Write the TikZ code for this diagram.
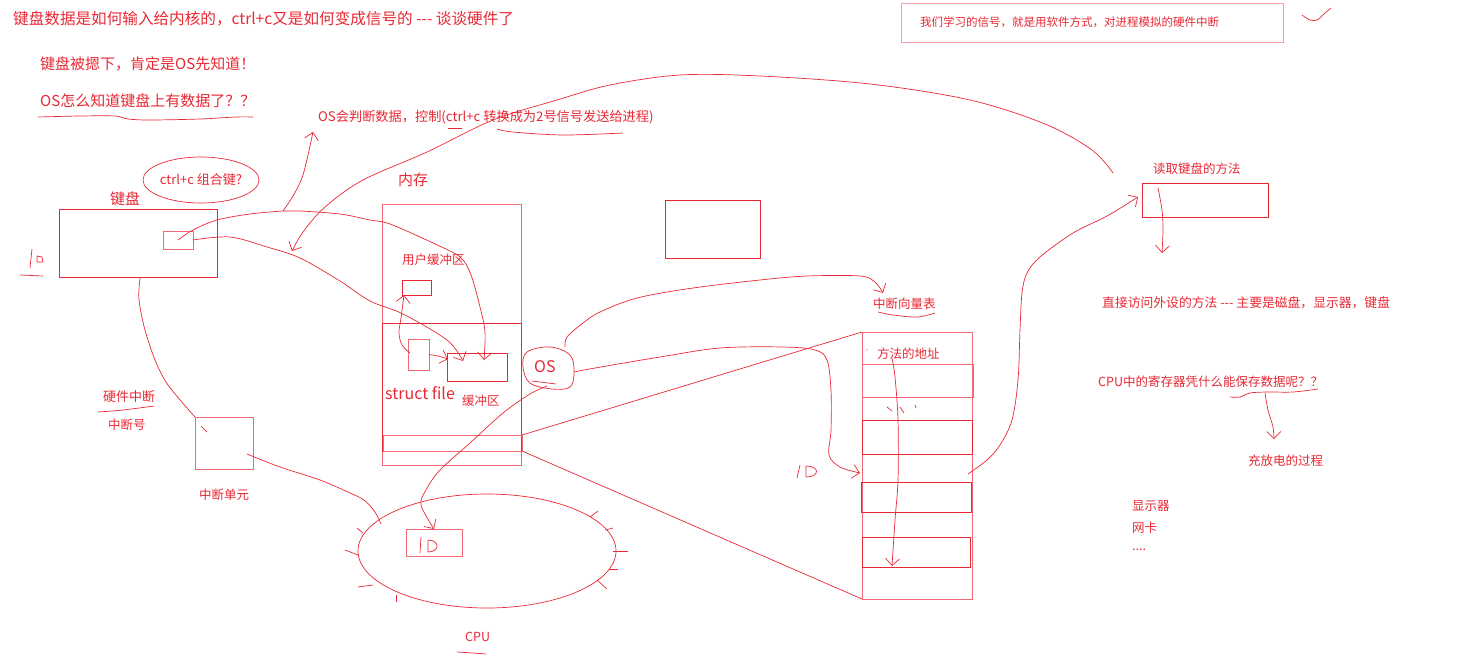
\documentclass[tikz,border=0pt]{standalone}
\usepackage{fontspec}
\setmainfont{Noto Sans CJK SC}
\usetikzlibrary{arrows.meta,shapes.geometric}
\definecolor{rd}{RGB}{232,40,52}
\definecolor{lrd}{RGB}{240,105,115}
\definecolor{pk}{RGB}{246,160,166}
\newcommand{\fsz}[1]{\fontsize{#1}{#1}\selectfont}
\newcommand{\tdash}{\mbox{-}\mbox{-}\mbox{-}}
\begin{document}
\begin{tikzpicture}[x=1pt,y=-1pt,
  txt/.style={text=rd,inner sep=0pt,anchor=west,font=\fsz{12.5}},
  ln/.style={draw=rd,line width=0.7pt},
  lln/.style={draw=lrd,line width=0.7pt},
  bx/.style={draw=rd,line width=0.8pt,anchor=north west,inner sep=0pt,outer sep=0pt},
  lbx/.style={draw=lrd,line width=0.8pt,anchor=north west,inner sep=0pt,outer sep=0pt},
  hd/.style={-{Straight Barb[length=7pt,width=14pt,line width=0.7pt]}},
  sm/.style={smooth,tension=0.55},
]
\path[use as bounding box] (0,0) rectangle (1461,659);

% ---------- texts ----------
\node[txt,font=\fsz{15.6}] (title) at (13,19) {键盘数据是如何输入给内核的，ctrl+c又是如何变成信号的 \tdash{} 谈谈硬件了};
\node[txt,font=\fsz{15}] (q1) at (40,64) {键盘被摁下，肯定是OS先知道！};
\node[txt,font=\fsz{15}] (q2) at (40,101) {OS怎么知道键盘上有数据了？？};
\node[txt,font=\fsz{13.2}] (osj) at (318,117) {OS会判断数据，控制(ctrl+c 转换成为2号信号发送给进程)};
\node[lbx,draw=pk,minimum width=382pt,minimum height=39pt] (topbox) at (901,3) {};
\node[txt,font=\fsz{11.5}] (topt) at (920,22) {我们学习的信号，就是用软件方式，对进程模拟的硬件中断};
\node[txt,font=\fsz{15}] (kbl) at (110,199) {键盘};
\node[ellipse,draw=rd,line width=0.7pt,minimum width=111pt,minimum height=46pt,inner sep=0pt,text=rd,font=\fsz{13}] (combo) at (201,180) {ctrl+c 组合键?};
\node[txt,font=\fsz{15}] (meml) at (398,180) {内存};
\node[txt] (ubufl) at (402,260) {用户缓冲区};
\node[txt,font=\fsz{16}] (sfl) at (385,393) {struct file};
\node[txt] (kbufl) at (462,401) {缓冲区};
\node[txt,font=\fsz{16}] (osl) at (534,367) {OS};
\node[txt] (ivtl) at (873,304) {中断向量表};
\node[txt] (addrl) at (877,354) {方法的地址};
\node[txt] (rkl) at (1153,169) {读取键盘的方法};
\node[txt,font=\fsz{12.8}] (direct) at (1102,303) {直接访问外设的方法 \tdash{} 主要是磁盘，显示器，键盘};
\node[txt] (cpuq) at (1098,382) {CPU中的寄存器凭什么能保存数据呢？？};
\node[txt] (charge) at (1248,461) {充放电的过程};
\node[txt] (disp) at (1132,506) {显示器};
\node[txt] (nic) at (1132,528) {网卡};
\node[txt] (dots) at (1132,550) {....};
\node[txt,font=\fsz{13}] (hwi) at (103,397) {硬件中断};
\node[txt] (irqn) at (108,425) {中断号};
\node[txt] (iul) at (199,495) {中断单元};
\node[txt] (cpul) at (465,637) {CPU};

% ---------- boxes ----------
\node[bx,minimum width=158pt,minimum height=68pt] (kb) at (59,209) {};
\node[lbx,minimum width=30pt,minimum height=18pt] (kbs) at (163,231) {};
\node[lbx,minimum width=139pt,minimum height=261pt] (mem) at (382,204) {};
\node[bx,minimum width=139pt,minimum height=128pt] (memlow) at (382,323) {};
\node[lbx,minimum width=139pt,minimum height=16pt] (strip) at (383,435) {};
\node[bx,minimum width=29pt,minimum height=15pt] (ubuf) at (402,280) {};
\node[lbx,minimum width=21pt,minimum height=31pt] (sf) at (408,339) {};
\node[bx,minimum width=60pt,minimum height=28pt] (kbuf) at (447,353) {};
\node[bx,minimum width=95pt,minimum height=58pt] (empty) at (665,200) {};
\node[lbx,minimum width=110pt,minimum height=267pt] (ivt) at (862,332) {};
\node[lbx,minimum width=111pt,minimum height=33pt] (e1) at (862,364) {};
\node[bx,minimum width=110pt,minimum height=34pt] (e2) at (862,420) {};
\node[bx,minimum width=110pt,minimum height=30pt] (e3) at (861,482) {};
\node[bx,minimum width=108pt,minimum height=30pt] (e4) at (862,537) {};
\node[bx,minimum width=126pt,minimum height=34pt] (rk) at (1142,183) {};
\node[lbx,minimum width=58pt,minimum height=52pt] (iu) at (195,417) {};
\node[lbx,minimum width=56pt,minimum height=27pt] (idb) at (406,529) {};
\node[ellipse,draw=rd,line width=0.7pt,minimum width=258pt,minimum height=114pt,inner sep=0pt] (cpu) at (487,551) {};

% OS blob
\draw[ln] plot[smooth cycle,tension=0.6] coordinates {(527,352) (550,347) (570,355) (574,372) (570,387) (552,389) (530,383) (523,367)};
\draw[ln] (532,381) -- (556,384);

% ---------- connectors ----------
\coordinate (br) at (283,211);
\draw[ln,hd] plot[sm] coordinates {(kbs.center) (193,230) (217,220) (250,214) (br) (300,211) (340,214) (370,220) (390,224) (433,243) (460,257) (471,275) (480,307) (485,332) (484,360)};
\draw[ln,hd] plot[sm] coordinates {(br) (293,196) (302,178) (308,155) (313,132)};
\draw[ln,hd] plot[sm] coordinates {(kbs.east) (230,237) (267,247) (300,258) (340,281) (370,301) (403,314) (447,340) (463,361)};
\draw[ln,hd] plot[sm] coordinates {(1113,173) (1092,150) (1045,124) (970,100) (870,84) (760,76) (680,75) (610,85) (557,100) (493,120) (427,152) (363,180) (325,207) (303,232) (292,251)};
\draw[ln] plot[sm] coordinates {(140,278) (139,300) (145,330) (155,360) (166,382) (181,401) (iu.north west)};
\draw[ln] (201,426) -- (207,432);
\draw[ln] plot[sm] coordinates {(247,454) (280,467) (320,480) (350,493) (364,500) (375,512) (381,524)};
\draw[ln,hd] plot[sm] coordinates {(410,353) (402,345) (399,333) (401,318) (404,295)};
\draw[ln,hd] plot[sm] coordinates {(sf.east) (438,356) (448,359)};
\draw[ln,hd] plot[sm] coordinates {(547,386) (530,394) (503,413) (470,443) (440,470) (426,490) (421,505) (idb.north)};
\draw[ln,hd] plot[sm] coordinates {(574,372) (595,368) (660,357) (720,348) (783,347) (815,350) (827,360) (831,390) (831,430) (829,455) (840,467) (860,473)};
\draw[ln,hd] plot[sm] coordinates {(565,347) (567,337) (583,323) (600,312) (637,298) (693,288) (760,280) (807,276) (860,276) (875,282) (883,293)};
\draw[ln] (strip.north east) -- (ivt.north west);
\draw[ln] (strip.south east) -- (ivt.south west);
\draw[ln,hd] plot[sm] coordinates {(968,474) (987,460) (1000,445) (1012,420) (1018,380) (1020,330) (1022,293) (1027,273) (1040,257) (1073,233) (1107,216) (1138,197)};
\draw[ln,hd] plot[sm] coordinates {(1158,188) (1162,210) (1163,230) (1162,253)};
\draw[ln,hd] plot[sm] coordinates {(892,358) (895,377) (898,420) (898,480) (895,520) (892,566)};
\draw[ln] plot[sm] coordinates {(1230,397) (1240,397) (1250,393) (1267,392) (1293,392) (1318,389)};
\draw[ln,hd] plot[sm] coordinates {(1265,393) (1268,410) (1273,427) (1274,439)};

% ---------- underlines & marks ----------
\draw[ln] plot[sm] coordinates {(38,117) (80,116) (115,116) (128,119) (150,120) (200,119) (236,117) (253,117)};
\draw[ln] (448,128) -- (462,128);
\draw[ln] plot[sm] coordinates {(497,129) (513,132) (563,135) (623,133)};
\draw[ln] plot[sm] coordinates {(878,312) (893,315) (917,317) (935,313)};
\draw[ln] plot[sm] coordinates {(98,412) (123,410) (154,406)};
\draw[ln] plot[sm] coordinates {(457,652) (473,653) (486,654)};
\draw[ln] plot[sm] coordinates {(1302,15) (1310,20) (1317,20) (1325,13) (1331,8)};
% hand-written "ID" marks
\draw[ln] (32,249) -- (30,268);
\draw[ln] (37,262) -- (37,256) -- (42,257) -- (43,262) -- cycle;
\draw[ln] (20,275) -- (43,276);
\draw[ln] (800,465) -- (797,478);
\draw[ln] (806,466) -- (806,477) (806,466) .. controls (820,466) and (820,477) .. (806,477);
\draw[ln] (421,537) -- (420,553);
\draw[ln] (428,540) -- (428,552) (428,540) .. controls (440,540) and (440,552) .. (428,552);
\draw[ln] (887,407) -- (892,411) (900,407) -- (904,413) (915,405) -- (916,408);
\fill[rd] (867,350) circle (0.6pt);
% ticks round the CPU
\draw[ln] (357,528) -- (363,533);
\draw[ln] (345,550) -- (358,555);
\draw[ln] (358,587) -- (373,585);
\draw[ln] (396,595) -- (396,602);
\draw[ln] (590,517) -- (598,511);
\draw[ln] (605,530) -- (613,528);
\draw[ln] (613,551) -- (628,551);
\draw[ln] (609,569) -- (618,569);
\draw[ln] (597,580) -- (607,589);
\end{tikzpicture}
\end{document}
